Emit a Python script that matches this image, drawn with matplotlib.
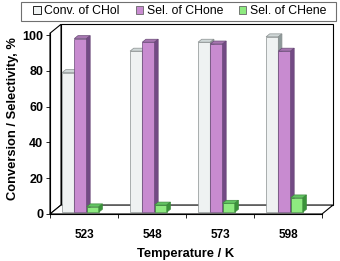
import matplotlib.pyplot as plt
from matplotlib.patches import Polygon, Patch, Rectangle
import numpy as np

plt.rcParams['font.family'] = ['Liberation Sans', 'DejaVu Sans']

# data
temps = ['523', '548', '573', '598']
conv_chol = [78, 90, 95, 98]
sel_chone = [97, 95, 94, 90]
sel_chene = [3, 4, 5, 8]
series_names = ['Conv. of CHol', 'Sel. of CHone', 'Sel. of CHene']
yticks = [0, 20, 40, 60, 80, 100]

# colours: front face, top face, side face, outline
face_cols = ['#eff2f2', '#c88bd0', '#8eea80']
top_cols = ['#d0d8d8', '#a676b0', '#62c462']
side_cols = ['#8e9a9a', '#734a85', '#3a933a']
edge_cols = ['#8a9090', '#6a4a78', '#3f8a3f']

fig = plt.figure(figsize=(3.4, 2.61), dpi=100)
ax = fig.add_axes([50/340, 47/261, 272/340, 191.5/261])
ax.set_xlim(-0.5, 3.5)
ax.set_ylim(0, 107)

# fake 3d box (depth offset in data units)
dx, dy = 0.162, 5.0
wall_top = 106
n = len(temps)
x0, x1 = -0.5, n - 0.5
lw = 0.8
back = Polygon([(x0+dx, dy), (x1+dx, dy), (x1+dx, wall_top), (x0+dx, wall_top)],
               closed=True, fc='white', ec='black', lw=lw, clip_on=False, zorder=1)
left = Polygon([(x0, 0), (x0+dx, dy), (x0+dx, wall_top), (x0, wall_top-dy)],
               closed=True, fc='white', ec='black', lw=lw, clip_on=False, zorder=1)
floor = Polygon([(x0, 0), (x1, 0), (x1+dx, dy), (x0+dx, dy)],
                closed=True, fc='white', ec='black', lw=lw, clip_on=False, zorder=1)
for p in (back, left, floor):
    ax.add_patch(p)

# bars sit between 20% and 53% of the depth
d0, d1 = 0.2, 0.53
bw = 0.18
xshift = -0.085
x = np.arange(n)
series = [conv_chol, sel_chone, sel_chene]
for k, vals in enumerate(series):
    xs = x + xshift + (k - 1) * bw + d0 * dx
    z = 3 + k
    bars = ax.bar(xs, vals, width=bw, bottom=d0 * dy, color=face_cols[k],
                  edgecolor=edge_cols[k], linewidth=0.5, zorder=z)
    ddx, ddy = (d1 - d0) * dx, (d1 - d0) * dy
    for b in bars:
        bx, by, w, h = b.get_x(), b.get_y(), b.get_width(), b.get_height()
        top = Polygon([(bx, by+h), (bx+w, by+h), (bx+w+ddx, by+h+ddy), (bx+ddx, by+h+ddy)],
                      closed=True, fc=top_cols[k], ec=edge_cols[k], lw=0.5, zorder=z)
        side = Polygon([(bx+w, by), (bx+w+ddx, by+ddy), (bx+w+ddx, by+h+ddy), (bx+w, by+h)],
                       closed=True, fc=side_cols[k], ec=edge_cols[k], lw=0.5, zorder=z)
        ax.add_patch(top)
        ax.add_patch(side)

for s in ['top', 'right']:
    ax.spines[s].set_visible(False)
ax.spines['left'].set_bounds(0, wall_top - dy)
ax.spines['left'].set_linewidth(lw)
ax.spines['bottom'].set_linewidth(lw)
ax.spines['left'].set_zorder(2)
ax.spines['bottom'].set_zorder(2)

ax.set_yticks(yticks)
ax.set_yticklabels([str(t) for t in yticks], fontsize=9, fontweight='bold')
ax.tick_params(axis='y', length=3, width=0.6, pad=2)
ax.set_xticks(np.arange(n + 1) - 0.5)
ax.set_xticklabels([])
ax.tick_params(axis='x', which='major', length=3, width=0.6)
ax.set_xticks(x, minor=True)
ax.set_xticklabels(temps, minor=True, fontsize=8.5, fontweight='bold')
ax.tick_params(axis='x', which='minor', length=0, pad=11)

ax.set_xlabel('Temperature / K', fontsize=9.3, fontweight='bold', labelpad=5)
ax.set_ylabel('Conversion / Selectivity, %', fontsize=9.3, fontweight='bold', labelpad=2)

# legend box at the top
fig.patches.append(Rectangle((21/340, 1 - 20.5/261), 315/340, 18.5/261,
                             transform=fig.transFigure, fc='white', ec='#707070', lw=0.8))
handles = [Patch(fc=face_cols[0], ec='black', lw=0.6),
           Patch(fc=face_cols[1], ec='#666666', lw=0.6),
           Patch(fc=face_cols[2], ec='#666666', lw=0.6)]
leg = fig.legend(handles, series_names, loc='center', ncol=3,
                 bbox_to_anchor=(180/340, 1 - 11.5/261),
                 fontsize=8.8, frameon=False, borderaxespad=0, borderpad=0,
                 handlelength=0.6, handleheight=0.6, handletextpad=0.3,
                 columnspacing=1.3)

fig.savefig('out.png', dpi=100)
